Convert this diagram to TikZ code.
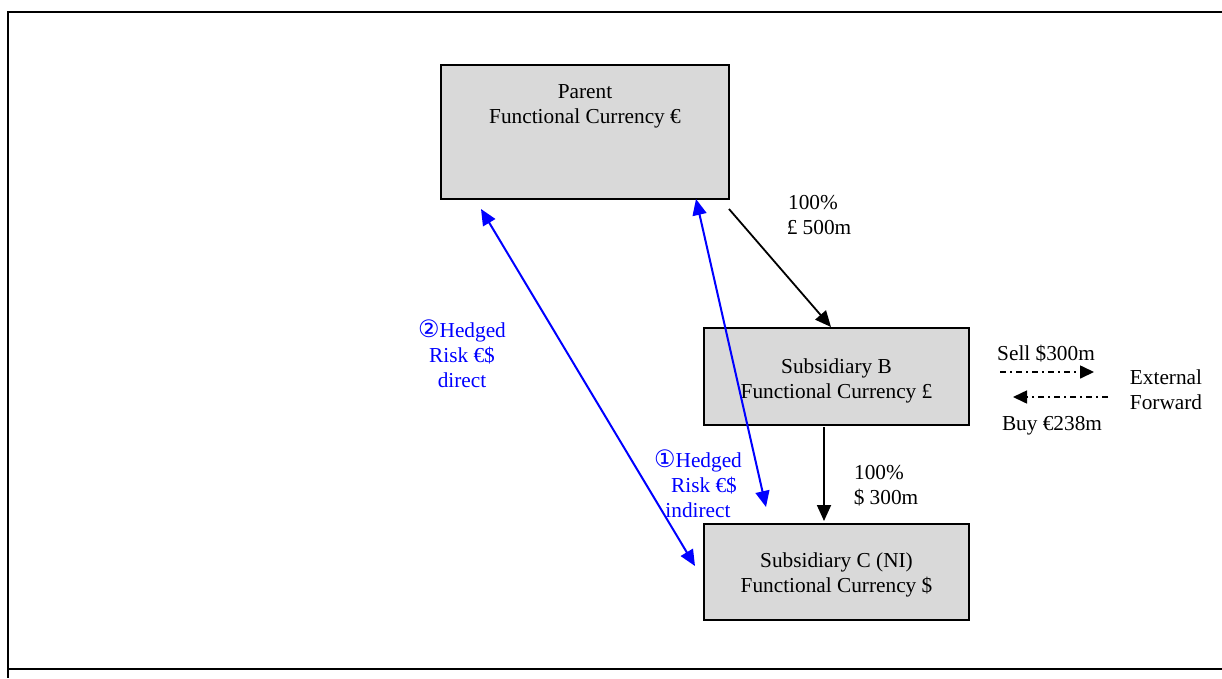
\documentclass[tikz,border=0pt]{standalone}
\usepackage{fontspec}
\setmainfont{Liberation Serif}
\newfontfamily\symfont{DejaVu Sans}
\usetikzlibrary{arrows.meta,calc}
\definecolor{boxgray}{RGB}{217,217,217}
\definecolor{hblue}{RGB}{0,0,255}
\begin{document}
\begin{tikzpicture}[x=1pt,y=-1pt,
  box/.style={draw=black, line width=2pt, fill=boxgray, inner sep=0pt},
  lbl/.style={font=\fontsize{21.3}{24.8}\selectfont, align=center, inner sep=0pt},
  blbl/.style={lbl, text=hblue},
  circ/.style={},
  blk/.style={line width=1.8pt, -{Triangle[length=16pt,width=14pt]}},
  blu/.style={draw=hblue, line width=2pt, {Triangle[length=16pt,width=14pt]}-{Triangle[length=16pt,width=14pt]}},
  fwd/.style={line width=1.6pt, dash pattern=on 6pt off 4pt on 2pt off 4pt, -{Triangle[length=14pt,width=13pt]}},
  frame/.style={line width=2.2pt}]
\useasboundingbox (0,0) rectangle (1222,678);
% frame
\draw[frame] (1222,12) -- (8,12) -- (8,678);
\draw[frame] (8,669) -- (1222,669);
% boxes
\node[box, minimum width=288pt, minimum height=134pt] (parent) at (585,132) {};
\node[lbl] (parenttxt) at (585,106.5) {Parent\\Functional Currency €};
\node[box, minimum width=265pt, minimum height=97pt] (subb) at (836.5,376.5) {};
\node[lbl] (subbtxt) at (836.5,380.5) {Subsidiary B\\Functional Currency £};
\node[box, minimum width=265pt, minimum height=96pt] (subc) at (836.5,572) {};
\node[lbl] (subctxt) at (836.5,574.5) {Subsidiary C (NI)\\Functional Currency \$};
% coordinates for connector ends
\coordinate (pbr) at ($(parent.south east)+(-1,9)$);
\coordinate (btop) at ($(subb.north west)+(128,0)$);
\coordinate (bbot) at ($(subb.south west)+(121,1)$);
\coordinate (ctop) at ($(subc.north west)+(121,-2)$);
\coordinate (d1) at ($(parent.south west)+(41,9)$);
\coordinate (d2) at ($(subc.west)+(-8,-6)$);
\coordinate (i1) at ($(parent.south west)+(256,-1)$);
\coordinate (i2) at ($(subc.north west)+(63,-16)$);
% black arrows
\draw[blk] (pbr) -- (btop);
\draw[blk] (bbot) -- (ctop);
\node[lbl] (l500) at (813,215) {100\%\\\hspace*{12pt}£ 500m};
\node[lbl] (l300) at (886,486) {100\%\hspace*{14pt}\\\$ 300m};
% blue arrows
\draw[blu] (d1) -- (d2);
\draw[blu] (i1) -- (i2);
\node[blbl] (direct) at (462,354) {{\symfont\fontsize{24}{24.8}\selectfont ②}Hedged\\Risk €\$\\direct};
\node[blbl] (indirect) at (698,484) {{\symfont\fontsize{24}{24.8}\selectfont ①}Hedged\\\hspace*{12pt}Risk €\$\\indirect};
% external forward
\coordinate (s1) at (1000,372);
\coordinate (s2) at (1094,372);
\coordinate (b1) at (1108,397);
\coordinate (b2) at (1013,397);
\draw[fwd] (s1) -- (s2);
\draw[fwd] (b1) -- (b2);
\node[lbl] (sell) at (1046,354) {Sell \$300m};
\node[lbl] (buy) at (1052,426) {Buy €238m};
\node[lbl] (ext) at (1166,390) {External\\Forward};
\end{tikzpicture}
\end{document}
